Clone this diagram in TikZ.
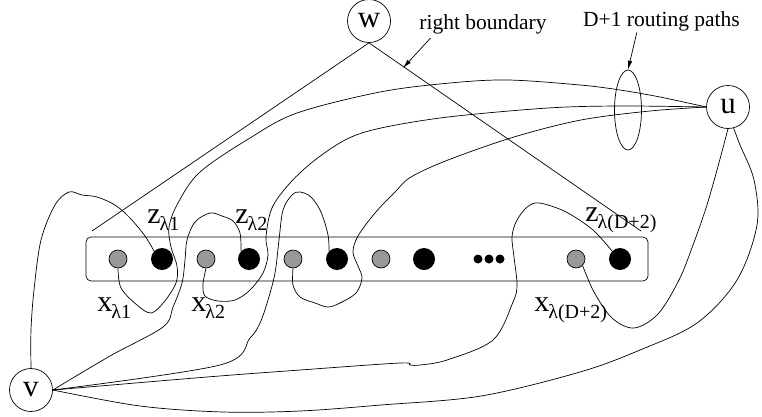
\documentclass[tikz,border=0pt]{standalone}
\usepackage{fontspec}
\setmainfont{Liberation Serif}
\usetikzlibrary{arrows.meta,shapes.geometric}

\definecolor{dotgray}{gray}{0.6}
% lowered subscript for the pair labels
\newcommand{\lsub}[1]{\raisebox{-7pt}{\fontsize{20}{20}\selectfont #1}}

\tikzset{
  vertex/.style={circle, draw, minimum size=43pt, inner sep=0pt, font=\fontsize{31}{31}\selectfont},
  xdot/.style={circle, draw, fill=dotgray, minimum size=18pt, inner sep=0pt},
  zdot/.style={circle, fill=black, minimum size=22pt, inner sep=0pt},
  gap/.style={circle, fill=black, minimum size=9pt, inner sep=0pt},
  lbl/.style={font=\fontsize{30}{30}\selectfont, inner sep=0pt, anchor=base west},
  note/.style={font=\fontsize{21.5}{21.5}\selectfont, inner sep=0pt, anchor=base},
  wire/.style={smooth, tension=0.55},
  pointer/.style={-{Latex[length=9pt,width=4.5pt]}},
}

\begin{document}
\begin{tikzpicture}[x=1pt, y=-1pt, line width=0.7pt]
        \useasboundingbox (0,0) rectangle (762,416);

        % the three outer vertices
        \node[vertex] (w) at (369,21) {w};
        \node[vertex] (u) at (728,107) {u};
        \node[vertex] (v) at (31,390) {v};

        % row of x/z pairs
        \draw[rounded corners=5pt] (86,237) rectangle (648,281);
        \node[xdot] (x1) at (118,259) {};
        \node[zdot] (z1) at (162,259) {};
        \node[xdot] (x2) at (206,259) {};
        \node[zdot] (z2) at (249,259) {};
        \node[xdot] (x3) at (293,259) {};
        \node[zdot] (z3) at (337,259) {};
        \node[xdot] (x4) at (381,259) {};
        \node[zdot] (z4) at (424,259) {};
        \node[gap] (d1) at (478,259) {};
        \node[gap] (d2) at (489,259) {};
        \node[gap] (d3) at (500,259) {};
        \node[xdot] (xn) at (576,259) {};
        \node[zdot] (zn) at (620,259) {};

        % pair labels
        \node[lbl] (lz1) at (147,223) {z\hspace{-1pt}\lsub{λ1}};
        \node[lbl] (lz2) at (235,223) {z\hspace{-1pt}\lsub{λ2}};
        \node[lbl] (lzn) at (585,221) {z\hspace{-1pt}\lsub{λ(D+2)}};
        \node[lbl] (lx1) at (97,311) {x\hspace{-1pt}\lsub{λ1}};
        \node[lbl] (lx2) at (191,311) {x\hspace{-1pt}\lsub{λ2}};
        \node[lbl] (lxn) at (534,311) {x\hspace{-1pt}\lsub{λ(D+2)}};

        % right boundary
        \coordinate (bl) at (92,231);
        \coordinate (br) at (641,231);
        \draw (bl) -- (w.south) -- (br);
        \coordinate (rb) at (403,68);
        \node[note] (rbnote) at (483,29) {right boundary};
        \draw[pointer] ([shift={(11.5,4)}]rbnote.south west) -- (rb);

        % the D+1 routing paths from u
        \draw[wire] plot coordinates {(u.west) (660,97) (620,90) (580,85) (508,80) (450,83) (380,92) (297,113) (250,138) (200,172) (178,203) (169,227) (171,247) (177,266) (176,283) (164,302) (151,313) (137,305) (121,288) (x1.south)};
        \draw[wire] plot coordinates {(u.west) (620,106) (548,108) (448,117) (381,128) (347,139) (315,160) (290,183) (272,208) (266,237) (268,255) (263,273) (250,290) (235,300) (218,301) (205,296) (203,284) (x2.south)};
        \draw[wire] plot coordinates {(u.west) (650,111) (581,120) (514,137) (448,160) (411,177) (395,192) (375,213) (358,236) (353,252) (358,266) (362,278) (356,293) (340,303) (328,307) (315,303) (300,297) (293,285) (x3.south)};
        \node[draw, ellipse, minimum width=27pt, minimum height=80pt, inner sep=0pt] (bundle) at (628,110) {};
        \node[note] (dnote) at (661.5,26) {D+1 routing paths};
        \draw[pointer] ([shift={(54,1.5)}]dnote.south west) -- (bundle.north);

        % u to the last x
        \draw[wire] plot coordinates {(u.south) (717,170) (706,208) (693,245) (679,280) (658,314) (634,328) (612,318) (594,292) (xn.south east)};

        % v to the z's
        \draw[wire] plot coordinates {(v.north) (31,330) (34,290) (41,240) (55,205) (69,192) (82,195) (97,197) (115,205) (130,218) (145,236) (z1.north west)};
        \draw[wire] plot coordinates {(v.east) (110,356) (163,327) (173,307) (182,283) (185,260) (187,240) (195,222) (210,213) (222,216) (233,221) (240,233) (z2.north west)};
        \draw[wire] plot coordinates {(v.east) (220,365) (250,338) (260,323) (268,300) (275,273) (279,240) (283,210) (292,195) (300,192) (311,197) (321,212) (328,235) (z3.north west)};
        \draw[wire] plot coordinates {(v.east) (207,377) (300,370) (400,363) (410,365) (420,365) (447,360) (493,340) (513,302) (517,285) (514,257) (512,237) (516,222) (525,209) (535,203) (548,205) (568,213) (593,230) (zn.north west)};

        % v to u round the outside
        \draw[wire] plot coordinates {(v.east) (140,406) (223,412) (300,411) (381,405) (481,396) (580,372) (640,350) (697,323) (737,280) (757,225) (754,180) (740,145) (u.-75)};
\end{tikzpicture}
\end{document}
